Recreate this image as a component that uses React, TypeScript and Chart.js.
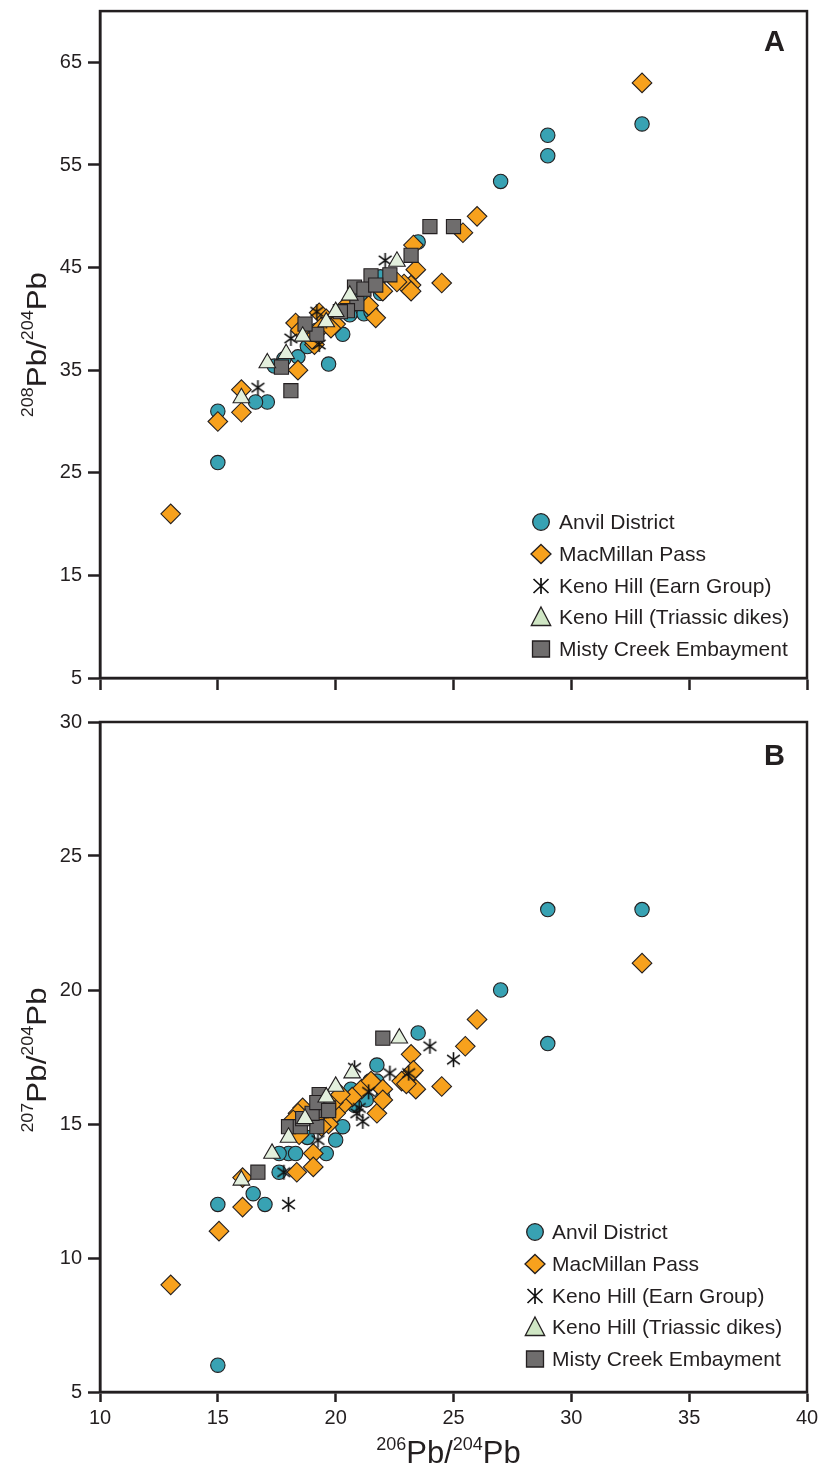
import React, { useEffect, useRef } from 'react';
import { Chart, registerables } from 'chart.js';

Chart.register(...registerables);

// ---------- data ----------
const seriesNames = [
  'Anvil District',
  'MacMillan Pass',
  'Keno Hill (Earn Group)',
  'Keno Hill (Triassic dikes)',
  'Misty Creek Embayment',
];

const xTicks = [10, 15, 20, 25, 30, 35, 40];
const yTicksA = [5, 15, 25, 35, 45, 55, 65];
const yTicksB = [5, 10, 15, 20, 25, 30];

// Panel A: 206Pb/204Pb vs 208Pb/204Pb
const anvilA = [
  [33.0, 59.0], [29.0, 57.9], [29.0, 55.9], [27.0, 53.4], [23.5, 47.5], [21.9, 44.1],
  [21.9, 42.5], [21.2, 40.5], [21.5, 40.7], [20.6, 40.4], [20.3, 38.5], [19.7, 35.6],
  [18.4, 36.3], [17.8, 36.1], [17.4, 35.4], [18.8, 37.3], [19.2, 38.9], [17.1, 31.9],
  [16.6, 31.9], [15.0, 31.0], [15.0, 26.0], [21.0, 42.0],
];
const macmillanA = [
  [33.0, 63.0], [26.0, 50.0], [25.4, 48.4], [23.3, 47.2], [23.4, 44.8], [23.2, 43.3],
  [22.9, 43.4], [23.2, 42.7], [24.5, 43.5], [22.0, 42.7], [22.6, 43.6], [21.7, 40.1],
  [21.4, 41.3], [20.5, 41.4], [19.3, 40.6], [19.6, 40.0], [20.0, 39.5], [19.4, 39.2],
  [19.8, 39.1], [18.3, 39.6], [18.5, 38.9], [19.1, 37.5], [19.0, 38.0], [18.4, 35.0],
  [16.0, 33.1], [16.0, 30.9], [15.0, 30.0], [13.0, 21.0],
];
const earnA = [
  [22.1, 45.7], [18.1, 38.1], [19.3, 37.5], [19.2, 40.7], [16.7, 33.3], [19.6, 39.8],
];
const triassicA = [
  [22.6, 45.6], [20.6, 42.3], [20.0, 40.7], [19.6, 39.7], [18.6, 38.3], [17.9, 36.6],
  [17.1, 35.7], [16.0, 32.3],
];
const mistyA = [
  [24.0, 49.0], [25.0, 49.0], [23.2, 46.2], [22.3, 44.3], [21.5, 44.2], [20.8, 43.1],
  [21.2, 42.9], [21.7, 43.3], [20.9, 41.5], [20.5, 40.8], [20.2, 40.7], [19.2, 38.5],
  [18.7, 39.5], [17.7, 35.3], [18.1, 33.0],
];

// Panel B: 206Pb/204Pb vs 207Pb/204Pb
const anvilB = [
  [33.0, 23.0], [29.0, 23.0], [29.0, 18.0], [27.0, 20.0], [23.5, 18.4], [21.75, 17.2],
  [21.45, 16.6], [21.75, 16.6], [21.3, 15.9], [20.65, 16.3], [20.3, 14.9], [20.0, 14.4],
  [19.6, 13.9], [18.0, 13.9], [18.3, 13.9], [17.6, 13.9], [17.6, 13.2], [16.5, 12.4],
  [17.0, 12.0], [15.0, 12.0], [15.0, 6.0], [18.8, 14.5], [20.8, 15.7], [22.0, 16.0],
];
const macmillanB = [
  [33.0, 21.0], [26.0, 18.9], [25.5, 17.9], [24.5, 16.4], [23.2, 17.6], [23.4, 16.3],
  [23.2, 16.9], [22.8, 16.6], [23.0, 16.5], [21.75, 15.4], [22.0, 16.3], [22.0, 15.9],
  [21.1, 16.3], [20.7, 16.0], [20.3, 15.7], [20.0, 15.4], [19.7, 15.0], [19.4, 14.9],
  [19.05, 13.9], [19.05, 13.4], [18.35, 13.2], [16.05, 11.9], [15.05, 11.0], [16.05, 13.0],
  [13.0, 9.0], [18.6, 15.6], [18.4, 15.4], [18.2, 15.15], [19.2, 15.3], [19.6, 15.6],
  [19.9, 15.8], [20.2, 16.1], [18.45, 14.6], [23.3, 17.0], [21.5, 16.6],
];
const earnB = [
  [24.0, 17.9], [25.0, 17.4], [20.8, 17.1], [22.3, 16.9], [23.1, 16.9], [21.15, 15.1],
  [20.9, 15.4], [21.4, 16.2], [19.25, 14.4], [18.0, 12.0], [17.8, 13.2], [21.0, 15.6],
];
const triassicB = [
  [22.7, 18.2], [20.7, 16.9], [20.0, 16.4], [19.6, 16.0], [18.7, 15.2], [18.0, 14.5],
  [17.3, 13.9], [16.0, 12.9],
];
const mistyB = [
  [22.0, 18.2], [16.7, 13.2], [18.0, 14.9], [18.5, 14.9], [19.2, 14.9], [18.6, 15.2],
  [19.3, 15.8], [19.4, 15.5], [19.7, 15.6], [19.0, 15.4], [19.3, 16.1], [19.2, 15.8],
  [19.7, 15.5],
];

// ---------- styles ----------
const INK = '#231f20';
const FONT = '"Liberation Sans", Arial, sans-serif';
const fills = ['#38a2b3', '#f7a11d', INK, '#e3f0dd', '#6f6d6d'];
const legendFills = ['#38a2b3', '#f7a11d', INK, '#cfe6c4', '#6f6d6d'];
const pointStyles = ['circle', 'rectRot', 'asterisk', 'triangle', 'rect'];
const pointRadii = [7.2, 9.8, 8, 9.6, 10];
const drawOrder = [4, 3, 2, 0, 1];

function makeAsterisk(size: number, lw: number): HTMLCanvasElement {
  const c = document.createElement('canvas');
  c.width = size;
  c.height = size;
  const g = c.getContext('2d')!;
  g.strokeStyle = '#111111';
  g.lineWidth = lw;
  const m = size / 2;
  const r = size / 2 - 1;
  g.beginPath();
  g.moveTo(m, m - r);
  g.lineTo(m, m + r);
  g.moveTo(m - r * 0.85, m - r * 0.62);
  g.lineTo(m + r * 0.85, m + r * 0.62);
  g.moveTo(m - r * 0.85, m + r * 0.62);
  g.lineTo(m + r * 0.85, m - r * 0.62);
  g.stroke();
  return c;
}

function drawLegendMarker(ctx: CanvasRenderingContext2D, i: number, x: number, y: number) {
  ctx.save();
  ctx.fillStyle = legendFills[i];
  ctx.strokeStyle = INK;
  ctx.lineWidth = 1.3;
  ctx.beginPath();
  if (i === 0) {
    ctx.arc(x, y, 8.3, 0, Math.PI * 2);
    ctx.fill();
    ctx.stroke();
  } else if (i === 1) {
    ctx.moveTo(x, y - 9.5);
    ctx.lineTo(x + 10, y);
    ctx.lineTo(x, y + 9.5);
    ctx.lineTo(x - 10, y);
    ctx.closePath();
    ctx.fill();
    ctx.stroke();
  } else if (i === 2) {
    ctx.lineWidth = 1.7;
    ctx.strokeStyle = '#111111';
    ctx.moveTo(x, y - 8);
    ctx.lineTo(x, y + 8);
    ctx.moveTo(x - 7.5, y - 7);
    ctx.lineTo(x + 7.5, y + 7);
    ctx.moveTo(x - 7.5, y + 7);
    ctx.lineTo(x + 7.5, y - 7);
    ctx.stroke();
  } else if (i === 3) {
    ctx.moveTo(x, y - 10);
    ctx.lineTo(x + 9.7, y + 8.5);
    ctx.lineTo(x - 9.7, y + 8.5);
    ctx.closePath();
    ctx.fill();
    ctx.stroke();
  } else {
    ctx.rect(x - 8.5, y - 8, 17, 16);
    ctx.fill();
    ctx.stroke();
  }
  ctx.restore();
}

function drawPbTitle(
  ctx: CanvasRenderingContext2D,
  sup1: string,
  x: number,
  y: number,
  rotated: boolean,
  big: number,
  small: number,
  raise: number,
  stretch: number,
) {
  const parts: [string, boolean][] = [[sup1, true], ['Pb/', false], ['204', true], ['Pb', false]];
  const fb = `${big}px ${FONT}`;
  const fs = `${small}px ${FONT}`;
  const widths = parts.map(([t, s]) => {
    ctx.font = s ? fs : fb;
    return ctx.measureText(t).width;
  });
  const total = widths.reduce((a, b) => a + b, 0);
  ctx.save();
  ctx.translate(x, y);
  if (rotated) ctx.rotate(-Math.PI / 2);
  ctx.scale(stretch, 1);
  ctx.fillStyle = INK;
  ctx.textAlign = 'left';
  ctx.textBaseline = 'alphabetic';
  let cx = -total / 2;
  parts.forEach(([t, s], k) => {
    ctx.font = s ? fs : fb;
    ctx.fillText(t, cx, s ? -raise : 0);
    cx += widths[k];
  });
  ctx.restore();
}

interface PanelCfg {
  letter: string;
  letterDy: number;
  ySup: string;
  height: number;
  padTop: number;
  xAxisH: number;
  xTickLen: number;
  showX: boolean;
  yMin: number;
  yMax: number;
  yTicks: number[];
  series: number[][][];
  legendX: number;
  legendTextX: number;
  legendY: number[];
  yTitleShift: number;
}

function makeConfig(p: PanelCfg, asterisk: HTMLCanvasElement): any {
  const decor = {
    id: 'decor' + p.letter,
    afterDraw(chart: any) {
      const ctx: CanvasRenderingContext2D = chart.ctx;
      const a = chart.chartArea;
      ctx.save();
      ctx.strokeStyle = INK;
      ctx.lineWidth = 2.5;
      ctx.strokeRect(a.left, a.top, a.right - a.left, a.bottom - a.top);
      // panel letter
      ctx.fillStyle = INK;
      ctx.font = `bold 29px ${FONT}`;
      ctx.textAlign = 'right';
      ctx.textBaseline = 'alphabetic';
      ctx.fillText(p.letter, a.right - 22, a.top + p.letterDy);
      // legend
      ctx.font = `21px ${FONT}`;
      ctx.textAlign = 'left';
      ctx.textBaseline = 'middle';
      seriesNames.forEach((name, i) => {
        drawLegendMarker(ctx, i, p.legendX, p.legendY[i]);
        ctx.fillStyle = INK;
        ctx.fillText(name, p.legendTextX, p.legendY[i] + 1);
      });
      ctx.restore();
      // y-axis title
      drawPbTitle(ctx, p.ySup, 46, (a.top + a.bottom) / 2 + p.yTitleShift, true, 28, 16, 13, 1.12);
      // x-axis title
      if (p.showX) {
        drawPbTitle(ctx, '206', (a.left + a.right) / 2 - 5, chart.height - 5, false, 31, 18, 13, 1);
      }
    },
  };

  const datasets = p.series.map((pts, i) => ({
    label: seriesNames[i],
    data: pts.map(([x, y]) => ({ x, y })),
    pointStyle: pointStyles[i] === 'asterisk' ? asterisk : pointStyles[i],
    pointRadius: pointRadii[i],
    pointHoverRadius: pointRadii[i],
    backgroundColor: fills[i],
    borderColor: INK,
    pointBorderWidth: 1.1,
    borderWidth: 1.1,
    showLine: false,
    order: drawOrder[i],
  }));

  return {
    type: 'scatter',
    data: { datasets },
    options: {
      animation: false,
      responsive: false,
      maintainAspectRatio: false,
      events: [],
      layout: { padding: { left: 0, right: 14, top: p.padTop, bottom: 0 } },
      plugins: { legend: { display: false }, tooltip: { enabled: false }, title: { display: false } },
      scales: {
        x: {
          type: 'linear',
          min: 10,
          max: 40,
          afterBuildTicks: (s: any) => {
            s.ticks = xTicks.map((v) => ({ value: v }));
          },
          afterFit: (s: any) => {
            s.height = p.xAxisH;
            s.paddingLeft = 0;
            s.paddingRight = 0;
            s.paddingTop = 0;
            s.paddingBottom = 0;
          },
          grid: {
            drawOnChartArea: false,
            drawTicks: true,
            tickLength: p.xTickLen,
            tickWidth: 2.5,
            tickColor: INK,
          },
          border: { display: true, color: INK, width: 2.5 },
          ticks: {
            display: p.showX,
            color: INK,
            font: { family: FONT, size: 20 },
            padding: 4,
            maxRotation: 0,
            autoSkip: false,
          },
        },
        y: {
          type: 'linear',
          min: p.yMin,
          max: p.yMax,
          afterBuildTicks: (s: any) => {
            s.ticks = p.yTicks.map((v) => ({ value: v }));
          },
          afterFit: (s: any) => {
            s.width = 100;
            s.paddingTop = 0;
            s.paddingBottom = 0;
            s.paddingLeft = 0;
            s.paddingRight = 0;
          },
          grid: {
            drawOnChartArea: false,
            drawTicks: true,
            tickLength: 12,
            tickWidth: 2.5,
            tickColor: INK,
          },
          border: { display: true, color: INK, width: 2.5 },
          ticks: {
            color: INK,
            font: { family: FONT, size: 20 },
            padding: 6,
            autoSkip: false,
          },
        },
      },
    },
    plugins: [decor],
  };
}

const panelA: PanelCfg = {
  letter: 'A',
  letterDy: 40,
  ySup: '208',
  height: 700,
  padTop: 8,
  xAxisH: 22,
  xTickLen: 12,
  showX: false,
  yMin: 5,
  yMax: 70,
  yTicks: yTicksA,
  series: [anvilA, macmillanA, earnA, triassicA, mistyA],
  legendX: 541,
  legendTextX: 559,
  legendY: [522, 554, 586, 617, 649],
  yTitleShift: 0,
};

const panelB: PanelCfg = {
  letter: 'B',
  letterDy: 43,
  ySup: '207',
  height: 768,
  padTop: 22,
  xAxisH: 76,
  xTickLen: 10,
  showX: true,
  yMin: 5,
  yMax: 30,
  yTicks: yTicksB,
  series: [anvilB, macmillanB, earnB, triassicB, mistyB],
  legendX: 535,
  legendTextX: 552,
  legendY: [532, 564, 596, 627, 659],
  yTitleShift: 3,
};

function Panel({ cfg, top }: { cfg: PanelCfg; top: number }) {
  const ref = useRef<HTMLCanvasElement>(null);
  useEffect(() => {
    if (!ref.current) return;
    const ast = makeAsterisk(17, 1.6);
    const chart = new Chart(ref.current, makeConfig(cfg, ast));
    return () => chart.destroy();
  }, [cfg]);
  return (
    <canvas
      ref={ref}
      width={821}
      height={cfg.height}
      style={{ position: 'absolute', left: 0, top, width: 821, height: cfg.height, display: 'block' }}
    />
  );
}

export default function App() {
  return (
    <div style={{ position: 'absolute', left: 0, top: 0, width: 821, height: 1468, background: '#ffffff' }}>
      <Panel cfg={panelA} top={0} />
      <Panel cfg={panelB} top={700} />
    </div>
  );
}
